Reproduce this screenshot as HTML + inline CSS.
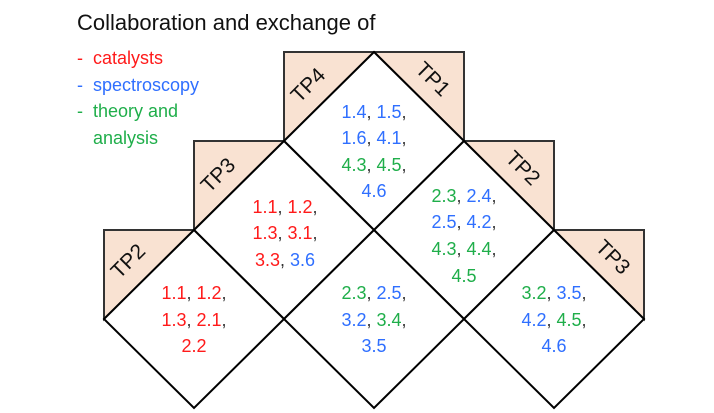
<!DOCTYPE html>
<html><head><meta charset="utf-8"><style>
body{margin:0;background:#fff;width:714px;height:413px;overflow:hidden}
svg{display:block;font-family:"Liberation Sans",sans-serif}
.r{fill:#ff1a1a}.b{fill:#2f6fff}.g{fill:#1fae4a}
</style></head><body>
<svg width="714" height="413" viewBox="0 0 714 413">
<text x="77" y="30" font-size="22" fill="#111">Collaboration and exchange of</text>
<g font-size="18">
<text x="77" y="64" class="r">-&#160;&#160;catalysts</text>
<text x="77" y="91" class="b">-&#160;&#160;spectroscopy</text>
<text x="77" y="117" class="g">-&#160;&#160;theory and</text>
<text x="93" y="144" class="g">analysis</text>
</g>
<g fill="#f9e2d2" stroke="#333" stroke-width="2">
<polygon points="284,52 374,52 284,141"/>
<polygon points="374,52 464,52 464,141"/>
<polygon points="194,141 284,141 194,230"/>
<polygon points="464,141 554,141 554,230"/>
<polygon points="104,230 194,230 104,319"/>
<polygon points="554,230 644,230 644,319"/>
</g>
<g fill="#fff" stroke="#000" stroke-width="2">
<polygon points="374,52 464,141 374,230 284,141"/>
<polygon points="284,141 374,230 284,319 194,230"/>
<polygon points="464,141 554,230 464,319 374,230"/>
<polygon points="194,230 284,319 194,408 104,319"/>
<polygon points="374,230 464,319 374,408 284,319"/>
<polygon points="554,230 644,319 554,408 464,319"/>
</g>
<g font-size="21" fill="#111" text-anchor="middle">
<text transform="translate(313,90) rotate(-45)">TP4</text>
<text transform="translate(428,84) rotate(45)">TP1</text>
<text transform="translate(223,180) rotate(-45)">TP3</text>
<text transform="translate(518,173) rotate(45)">TP2</text>
<text transform="translate(133,266) rotate(-45)">TP2</text>
<text transform="translate(608,262) rotate(45)">TP3</text>
</g>
<g font-size="18" text-anchor="middle" fill="#333">
<g>
<text x="374" y="118"><tspan class="b">1.4</tspan>, <tspan class="b">1.5</tspan>,</text>
<text x="374" y="144"><tspan class="b">1.6</tspan>, <tspan class="b">4.1</tspan>,</text>
<text x="374" y="171"><tspan class="g">4.3</tspan>, <tspan class="g">4.5</tspan>,</text>
<text x="374" y="197"><tspan class="b">4.6</tspan></text>
</g>
<g>
<text x="285" y="213"><tspan class="r">1.1</tspan>, <tspan class="r">1.2</tspan>,</text>
<text x="285" y="239"><tspan class="r">1.3</tspan>, <tspan class="r">3.1</tspan>,</text>
<text x="285" y="266"><tspan class="r">3.3</tspan>, <tspan class="b">3.6</tspan></text>
</g>
<g>
<text x="464" y="202"><tspan class="g">2.3</tspan>, <tspan class="b">2.4</tspan>,</text>
<text x="464" y="228"><tspan class="b">2.5</tspan>, <tspan class="b">4.2</tspan>,</text>
<text x="464" y="255"><tspan class="g">4.3</tspan>, <tspan class="g">4.4</tspan>,</text>
<text x="464" y="282"><tspan class="g">4.5</tspan></text>
</g>
<g>
<text x="194" y="299"><tspan class="r">1.1</tspan>, <tspan class="r">1.2</tspan>,</text>
<text x="194" y="326"><tspan class="r">1.3</tspan>, <tspan class="r">2.1</tspan>,</text>
<text x="194" y="352"><tspan class="r">2.2</tspan></text>
</g>
<g>
<text x="374" y="299"><tspan class="g">2.3</tspan>, <tspan class="b">2.5</tspan>,</text>
<text x="374" y="326"><tspan class="b">3.2</tspan>, <tspan class="g">3.4</tspan>,</text>
<text x="374" y="352"><tspan class="b">3.5</tspan></text>
</g>
<g>
<text x="554" y="299"><tspan class="g">3.2</tspan>, <tspan class="b">3.5</tspan>,</text>
<text x="554" y="326"><tspan class="b">4.2</tspan>, <tspan class="g">4.5</tspan>,</text>
<text x="554" y="352"><tspan class="b">4.6</tspan></text>
</g>
</g>
</svg>
</body></html>
